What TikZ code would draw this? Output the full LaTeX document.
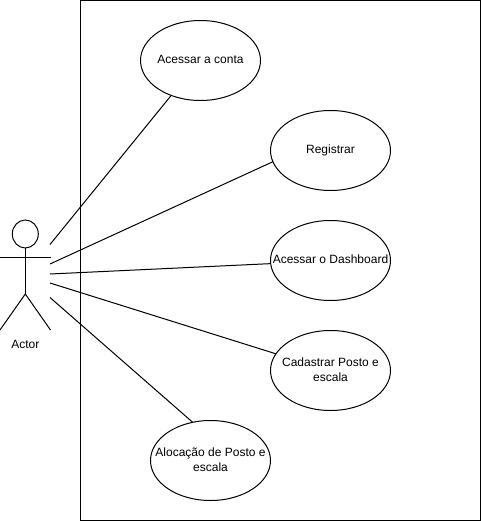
\documentclass[tikz,border=0pt]{standalone}
\usepackage{fontspec}
\setmainfont{Liberation Sans}
\usetikzlibrary{shapes.geometric}
\newcommand{\uctext}[1]{\makebox[0pt][c]{\raisebox{-0.8pt}{\begin{tabular}{@{}c@{}}#1\end{tabular}}}}
\begin{document}
\begin{tikzpicture}[x=0.75pt,y=-0.75pt,
  line/.style={draw=black,line width=0.75pt},
  usecase/.style={ellipse,draw=black,line width=0.75pt,fill=white,minimum width=90pt,minimum height=60pt,inner sep=0pt,outer sep=0pt,font=\fontsize{9}{11.25}\selectfont}]
\useasboundingbox (0,0) rectangle (481,521);
\fill[white] (0,0) rectangle (481,521);
\node[draw=black,line width=0.75pt,minimum width=300pt,minimum height=390pt,inner sep=0pt,outer sep=0pt,anchor=north west] (frame) at (80.5,0.5) {};
\node[usecase] (a) at (200.5,60.5) {\uctext{Acessar a conta}};
\node[usecase] (b) at (330.5,150.5) {\uctext{Registrar}};
\node[usecase] (c) at (330.5,260.5) {\uctext{Acessar o Dashboard}};
\node[usecase] (d) at (330.5,370.5) {\uctext{Cadastrar Posto e\\escala}};
\node[usecase] (e) at (210.5,460.5) {\uctext{Alocação de Posto e\\escala}};
\coordinate (l1) at (50,244.5);
\coordinate (l2) at (50,264);
\coordinate (l3) at (50,274);
\coordinate (l4) at (50,283);
\coordinate (l5) at (50,297.5);
\draw[line] (l1) -- (a.230.7);
\draw[line] (l2) -- (b.191.9);
\draw[line] (l3) -- (c.183.2);
\draw[line] (l4) -- (d.163);
\draw[line] (l5) -- (e.115.8);
\node[ellipse,draw=black,line width=0.75pt,fill=white,minimum width=19.5pt,minimum height=21pt,inner sep=0pt,outer sep=0pt] (head) at (25.3,234) {};
\coordinate (hip) at (25.3,294);
\coordinate (armL) at (0,257);
\coordinate (armR) at (50.5,257);
\coordinate (footL) at (0,330);
\coordinate (footR) at (50.5,330);
\draw[line] (head) -- (hip);
\draw[line] (armL) -- (armR);
\draw[line] (footL) -- (hip) -- (footR);
\node[font=\fontsize{9}{11}\selectfont] (actor) at (25.3,344) {Actor};
\end{tikzpicture}
\end{document}
